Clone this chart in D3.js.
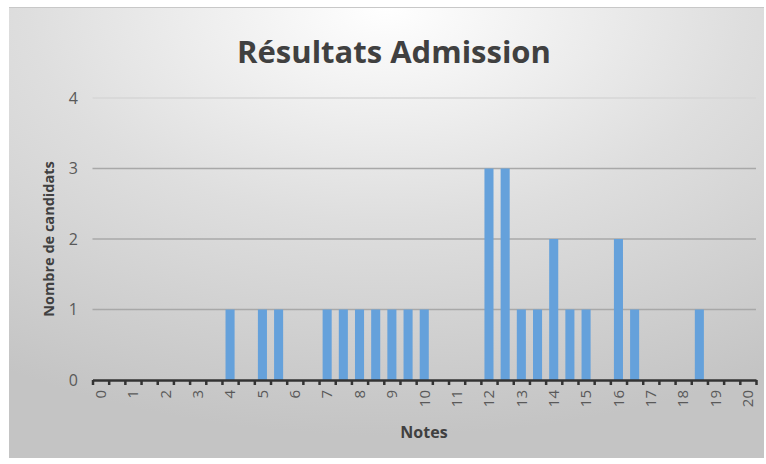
<!DOCTYPE html>
<html>
<head>
<meta charset="utf-8">
<script src="https://cdn.jsdelivr.net/npm/d3@7"></script>
<style>
  body { margin: 0; background: #fff; }
  svg { display: block; font-family: "Open Sans", "Liberation Sans", sans-serif; }
</style>
</head>
<body>
<svg id="chart" width="766" height="464"></svg>
<script>
// notes from 0 to 20 by half points
const notes = ["0","0.5","1","1.5","2","2.5","3","3.5","4","4.5","5","5.5","6","6.5","7","7.5","8","8.5","9","9.5",
               "10","10.5","11","11.5","12","12.5","13","13.5","14","14.5","15","15.5","16","16.5","17","17.5","18","18.5","19","19.5","20"];
const candidats = [0,0,0,0,0,0,0,0,1,0,1,1,0,0,1,1,1,1,1,1,
                   1,0,0,0,3,3,1,1,2,1,1,0,2,1,0,0,0,1,0,0,0];
const xLabels = ["0","1","2","3","4","5","6","7","8","9","10","11","12","13","14","15","16","17","18","19","20"];
const yTicks = [0,1,2,3,4];

const svg = d3.select('#chart');

// background gradient
const defs = svg.append('defs');
const grad = defs.append('radialGradient').attr('id','bg')
    .attr('cx','50%').attr('cy','0%').attr('r','95%')
    .attr('gradientUnits','objectBoundingBox');
grad.append('stop').attr('offset','0%').attr('stop-color','#ffffff');
grad.append('stop').attr('offset','50%').attr('stop-color','#dedede');
grad.append('stop').attr('offset','100%').attr('stop-color','#c4c4c4');

svg.append('rect')
    .attr('x',9).attr('y',7).attr('width',755).attr('height',451)
    .attr('fill','url(#bg)');
svg.append('line')
    .attr('x1',9).attr('x2',764).attr('y1',7.5).attr('y2',7.5)
    .attr('stroke','#c8c8c8').attr('stroke-width',1);

const pLeft = 92.5, pRight = 756, pTop = 98, pBottom = 380;

var x = d3.scaleBand().domain(notes).range([pLeft, pRight]).paddingInner(0.44).paddingOuter(0.22);
var xb = d3.scaleLinear().domain([0, notes.length]).range([pLeft, pRight]);
var y = d3.scaleLinear().domain([0,4]).range([pBottom, pTop]);

// grid
svg.append('g').selectAll('line').data(yTicks.filter(d => d > 0)).enter().append('line')
    .attr('x1', pLeft).attr('x2', pRight)
    .attr('y1', d => y(d)).attr('y2', d => y(d))
    .attr('stroke', d => d == 4 ? '#d6d6d6' : '#a8a8a8')
    .attr('stroke-width', 1.6);

// y labels
svg.append('g').selectAll('text').data(yTicks).enter().append('text')
    .attr('x', 78).attr('y', d => y(d)).attr('dy','0.35em')
    .attr('text-anchor','end')
    .attr('font-size', 16).attr('fill','#595959')
    .text(d => d);

// bars
svg.append('g').selectAll('rect').data(notes).enter().append('rect')
    .attr('x', d => x(d))
    .attr('width', x.bandwidth())
    .attr('y', (d,i) => y(candidats[i]))
    .attr('height', (d,i) => y(0) - y(candidats[i]))
    .attr('fill', '#65a1db');

// x axis: ticks between categories
const ax = svg.append('g')
    .attr('transform','translate(0,'+pBottom+')')
    .call(d3.axisBottom(xb).tickValues(d3.range(notes.length + 1)).tickSize(5).tickSizeOuter(0).tickFormat(''));
ax.select('.domain').attr('stroke','#333').attr('stroke-width',2.5);
ax.selectAll('.tick line').attr('stroke','#333').attr('stroke-width',2.5);

// x labels on integer notes
svg.append('g').selectAll('text').data(xLabels).enter().append('text')
    .attr('transform', d => 'translate(' + (x(d) + x.bandwidth()/2) + ',390) rotate(-90)')
    .attr('dy','0.35em')
    .attr('text-anchor','end')
    .attr('font-size', 15).attr('fill','#595959')
    .text(d => d);

// titles
svg.append('text')
    .attr('x', 394).attr('y', 63)
    .attr('text-anchor','middle')
    .attr('font-size', 31).attr('font-weight','bold').attr('fill','#404040')
    .text('Résultats Admission');

svg.append('text')
    .attr('transform','translate(54,239) rotate(-90)')
    .attr('text-anchor','middle')
    .attr('font-size', 14.5).attr('font-weight','bold').attr('fill','#404040')
    .text('Nombre de candidats');

svg.append('text')
    .attr('x', 424).attr('y', 438)
    .attr('text-anchor','middle')
    .attr('font-size', 16).attr('font-weight','bold').attr('fill','#404040')
    .text('Notes');
</script>
</body>
</html>
